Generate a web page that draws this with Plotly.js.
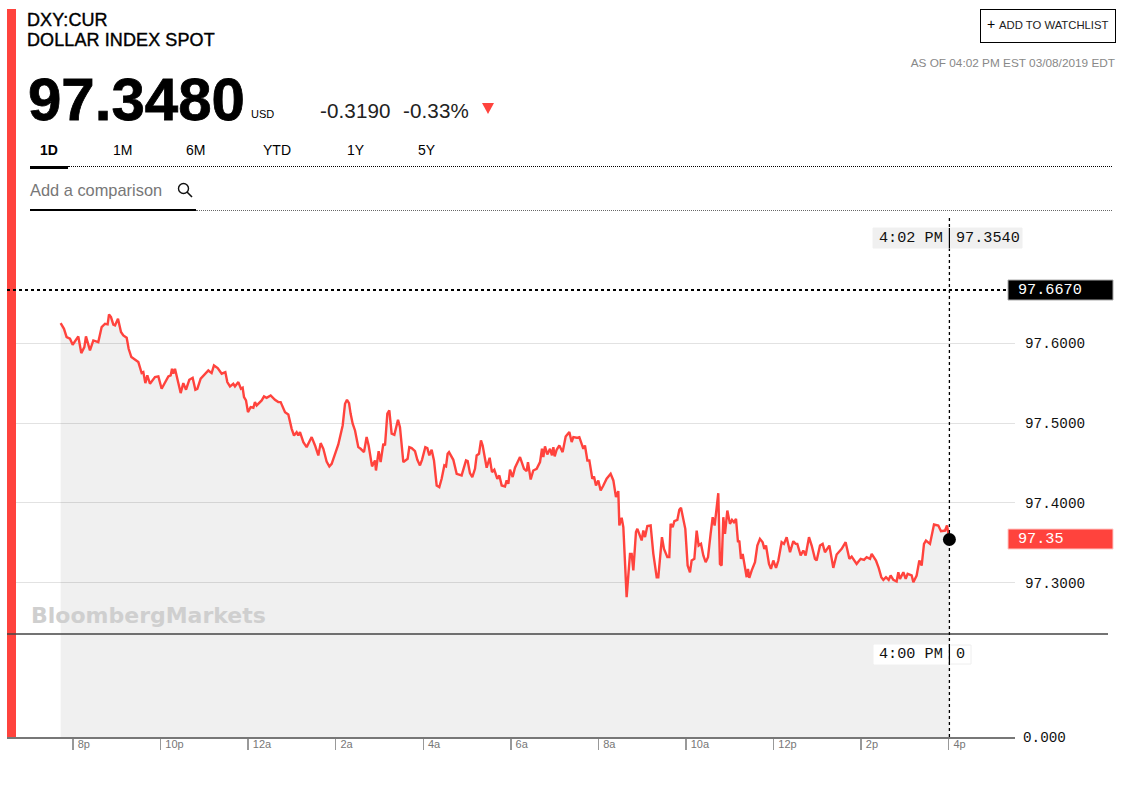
<!DOCTYPE html>
<html>
<head>
<meta charset="utf-8">
<script src="https://cdn.plot.ly/plotly-3.0.1.min.js"></script>
<style>
html,body{margin:0;padding:0;background:#fff;}
body{width:1133px;height:788px;position:relative;overflow:hidden;font-family:"Liberation Sans",Arial,sans-serif;color:#000;}
#chart{position:absolute;left:0;top:0;width:1133px;height:788px;}
.t{position:absolute;white-space:nowrap;line-height:1;z-index:2;}
.rule{position:absolute;z-index:2;}
</style>
</head>
<body>
<div id="chart"></div>

<div class="t" style="left:27px;top:11px;font-size:18px;-webkit-text-stroke:.4px #000;letter-spacing:.1px;">DXY:CUR</div>
<div class="t" style="left:27px;top:31px;font-size:18px;-webkit-text-stroke:.4px #000;letter-spacing:.1px;">DOLLAR INDEX SPOT</div>
<div class="t" style="left:28px;top:70px;font-size:60px;font-weight:bold;-webkit-text-stroke:.8px #000;">97.3480</div>
<div class="t" style="left:251px;top:109px;font-size:11px;">USD</div>
<div class="t" style="left:320px;top:101px;font-size:20.6px;color:#222;letter-spacing:.1px;">-0.3190</div>
<div class="t" style="left:403px;top:101px;font-size:20.6px;color:#222;letter-spacing:.1px;">-0.33%</div>
<div style="position:absolute;z-index:2;left:482px;top:103px;width:0;height:0;border-left:6px solid transparent;border-right:6px solid transparent;border-top:11px solid #ff433d;"></div>

<div class="t" style="left:40px;top:143px;font-size:14px;font-weight:bold;">1D</div>
<div class="t" style="left:113px;top:143px;font-size:14px;">1M</div>
<div class="t" style="left:186px;top:143px;font-size:14px;">6M</div>
<div class="t" style="left:263px;top:143px;font-size:14px;">YTD</div>
<div class="t" style="left:347px;top:143px;font-size:14px;">1Y</div>
<div class="t" style="left:418px;top:143px;font-size:14px;">5Y</div>
<div class="rule" style="left:30px;top:166px;width:38px;height:3px;background:#000;"></div>
<div class="rule" style="left:68px;top:166px;width:1044px;border-top:1px dotted #000;"></div>

<div class="t" style="left:30px;top:182px;font-size:16.4px;color:#777;">Add a comparison</div>
<svg style="position:absolute;z-index:2;left:176px;top:181px;" width="18" height="18" viewBox="0 0 18 18"><circle cx="7.5" cy="7.5" r="5" fill="none" stroke="#111" stroke-width="1.4"/><line x1="11" y1="11" x2="16" y2="16" stroke="#111" stroke-width="1.6"/></svg>
<div class="rule" style="left:30px;top:209px;width:166px;height:2px;background:#000;"></div>
<div class="rule" style="left:196px;top:210px;width:916px;border-top:1px dotted #666;"></div>

<div style="position:absolute;z-index:2;left:980px;top:9px;width:134px;height:32px;border:1px solid #000;"></div>
<div class="t" style="left:987px;top:17px;font-size:14px;">+</div>
<div class="t" style="left:999px;top:20px;font-size:11.3px;color:#222;">ADD TO WATCHLIST</div>
<div class="t" style="right:18px;top:58px;font-size:11.8px;color:#888;">AS OF 04:02 PM EST 03/08/2019 EDT</div>

<script>
// Time axis: minutes after 8p; price in index points.
var minutes = [-16.9,-12.3,-8.7,-4.1,-0.4,4.1,7.3,11.4,15.6,17.8,23.3,27.9,34.7,39.3,43.9,47.5,49.4,52.1,55.3,57.6,61.7,65.8,69.0,73.6,76.3,80.0,83.6,89.6,94.1,96.4,99.2,101.9,105.5,112.4,117.0,121.5,130.7,133.9,135.7,137.5,139.8,143.0,147.6,151.2,154.9,159.4,164.0,167.7,170.4,175.0,180.9,185.5,190.0,193.2,198.3,203.8,208.8,211.5,215.2,219.7,222.0,226.6,230.2,232.5,234.4,237.1,239.8,243.5,247.2,249.4,251.7,258.6,261.8,265.4,270.9,276.8,281.4,284.6,290.6,295.1,299.7,302.9,306.5,308.8,311.1,315.7,320.2,323.9,327.1,331.7,336.2,339.4,343.1,347.6,351.3,354.5,363.6,369.6,372.8,375.5,378.3,380.5,383.3,386.5,391.0,
394.2,398.8,402.4,405.2,409.8,413.9,415.2,418.9,421.6,425.3,427.6,430.8,433.5,436.7,440.4,445.4,448.1,452.7,458.6,460.9,464.1,468.7,471.9,475.5,478.3,482.8,485.6,488.3,491.5,494.7,498.4,502.0,505.2,508.9,511.2,513.4,515.3,521.2,525.8,529.4,532.6,538.6,540.9,544.0,547.2,550.9,553.2,556.4,559.1,561.4,566.9,571.0,574.2,577.4,581.5,584.3,587.5,592.0,594.3,596.6,598.9,602.5,605.7,612.6,618.1,621.7,623.5,627.2,630.8,635.4,640.0,642.7,644.6,646.8,650.0,653.7,656.4,658.3,660.1,662.8,666.5,671.0,675.2,680.2,683.4,685.7,690.2,693.9,699.4,701.6,704.9,707.6,711.7,714.0,716.7,719.9,723.1,726.8,731.3,736.8,740.5,744.1,747.3,748.7,751.9,754.2,758.7,763.3,765.6,767.9,771.5,773.4,779.3,781.6,783.9,787.1,791.6,795.3,799.9,802.1,
807.1,809.9,814.5,817.2,819.0,821.8,824.1,828.2,830.9,833.2,836.4,839.1,842.3,845.5,847.8,851.5,854.7,857.4,860.6,863.8,867.0,870.2,873.8,876.6,879.3,884.3,886.6,888.9,891.2,893.5,896.7,900.3,903.1,905.8,908.6,911.3,913.1,915.4,917.7,921.3,923.2,925.0,926.8,930.0,934.6,937.8,941.4,945.1,947.4,949.7,953.8,956.5,959.7,963.4,966.6,971.1,974.3,978.0,982.6,987.1,990.3,992.6,997.2,1000.8,1004.0,1008.6,1012.3,1016.8,1019.1,1023.7,1027.3,1030.5,1036.5,1041.9,1046.5,1053.4,1058.8,1063.9,1067.1,1073.9,1079.4,1084.0,1087.6,1092.2,1094.5,1100.4,1104.1,1107.7,1110.5,1114.1,1117.8,1120.5,1124.2,1128.7,1131.0,1133.3,1137.9,1141.1,1143.8,1149.3,1151.6,1156.1,1159.8,1163.0,1166.2,1168.9,1174.4,1179.9,1185.8,1189.5,1195.0,1197.7,1201];
var prices = [97.6255,97.6184,97.608,97.6059,97.5984,97.6038,97.6088,97.5879,97.5954,97.6088,97.5912,97.6038,97.6017,97.6205,97.6247,97.6239,97.6364,97.6331,97.6235,97.6226,97.631,97.6143,97.6101,97.6071,97.5933,97.5829,97.5808,97.5766,97.5628,97.564,97.5502,97.5599,97.5494,97.5578,97.5586,97.5431,97.5586,97.5599,97.5682,97.562,97.5682,97.5544,97.5377,97.5502,97.5419,97.5544,97.5569,97.5419,97.5431,97.5557,97.5611,97.5661,97.5628,97.5724,97.5691,97.562,97.564,97.5515,97.5461,97.5494,97.5461,97.5515,97.5431,97.5444,97.5327,97.5285,97.5138,97.5201,97.5193,97.5264,97.5222,97.5285,97.5335,97.5318,97.5348,97.5293,97.5264,97.5264,97.5138,97.5109,97.4929,97.4845,97.4887,97.4845,97.4887,97.4762,97.4699,97.4762,97.4825,97.472,97.4594,97.4749,97.4678,97.4519,97.4456,97.449,97.4733,97.4971,97.5243,97.5293,97.5251,97.5117,97.4992,97.4908,97.4699,
97.4678,97.4636,97.4825,97.472,97.4457,97.4532,97.4406,97.4649,97.4511,97.4741,97.472,97.5118,97.5159,97.4867,97.4854,97.5042,97.495,97.4511,97.4553,97.4699,97.4687,97.4649,97.454,97.4469,97.454,97.4699,97.4687,97.4595,97.4666,97.4532,97.4218,97.4197,97.4302,97.4469,97.4457,97.4616,97.4636,97.454,97.4364,97.4356,97.4344,97.4532,97.4523,97.4373,97.4323,97.4427,97.4595,97.4616,97.4783,97.472,97.444,97.4565,97.4385,97.4415,97.4302,97.4344,97.4218,97.4205,97.4281,97.4239,97.4415,97.4323,97.444,97.4574,97.4427,97.4398,97.4511,97.4293,97.4406,97.4427,97.4511,97.4678,97.4574,97.4708,97.4607,97.4678,97.4595,97.4699,97.4582,97.4666,97.472,97.4636,97.4833,97.4887,97.4762,97.4825,97.4816,97.4825,97.4678,97.472,97.4532,97.4532,97.4302,97.4331,97.4218,97.4281,97.4155,97.4218,97.4302,97.4364,97.4281,97.4072,97.4147,97.3716,97.3812,97.3695,97.2816,97.336,97.336,97.3151,97.3632,97.3674,97.3528,97.3653,97.357,97.3708,97.3716,97.336,97.3067,97.3067,
97.3569,97.3422,97.3318,97.3318,97.3736,97.3694,97.377,97.3786,97.3912,97.3937,97.3778,97.3673,97.3213,97.3129,97.3276,97.3297,97.3652,97.3464,97.3485,97.3339,97.3255,97.3318,97.361,97.382,97.3715,97.4121,97.3234,97.3213,97.382,97.361,97.3903,97.3736,97.3786,97.3757,97.3799,97.3506,97.3527,97.3297,97.336,97.315,97.3067,97.3171,97.3058,97.315,97.3255,97.3464,97.3548,97.3506,97.3422,97.3464,97.3234,97.3171,97.3276,97.3184,97.3276,97.3506,97.3485,97.3569,97.338,97.3519,97.3485,97.3485,97.3339,97.3401,97.3339,97.3569,97.3464,97.3297,97.3276,97.3464,97.3485,97.338,97.3464,97.3184,97.3351,97.3422,97.3506,97.3297,97.3326,97.3234,97.3297,97.3284,97.3318,97.3297,97.336,97.3276,97.3184,97.3067,97.3033,97.3067,97.3033,97.3088,97.3033,97.3012,97.3129,97.3046,97.3129,97.3046,97.3108,97.3088,97.3004,97.3088,97.3276,97.3213,97.3485,97.3527,97.3485,97.3728,97.3715,97.3644,97.3652,97.3715,97.354];

var tickMinutes = [0,120,240,360,480,600,720,840,960,1080,1200];
var tickLabels = ['8p','10p','12a','2a','4a','6a','8a','10a','12p','2p','4p'];
var priceTicks = [97.3,97.4,97.5,97.6];
var prevClose = 97.667;
var lastPrice = 97.354;
var volume = [1,1];

var RED = '#ff433d', MONO = '"Liberation Mono", monospace';
var PX = function(x){return (x-7)/1008;};
var PY = function(y){return (737-y)/519;};
var tsize = 14.3, lsize = 15.2;

function txt(x, y, s, color, yref){
  return {xref:'paper', yref:yref||'paper', x:PX(x), y:y, text:s, showarrow:false, xanchor:'left', yanchor:'middle',
          font:{family:MONO, size:lsize, color:color||'#111'}};
}
function rect(x0,x1,y0,y1,fill,line){
  return {type:'rect', xref:'paper', yref:'paper', x0:PX(x0), x1:PX(x1), y0:PY(y0), y1:PY(y1),
          fillcolor:fill, line:{color:line||fill, width:1}};
}

var data = [
  {x:minutes, y:prices, type:'scatter', mode:'lines', xaxis:'x', yaxis:'y',
   line:{color:RED, width:2.4, shape:'linear'}, fill:'tozeroy', fillcolor:'rgba(0,0,0,0.06)', hoverinfo:'skip', showlegend:false},
  {x:[minutes[0], minutes[minutes.length-1]], y:volume, type:'scatter', mode:'lines', xaxis:'x', yaxis:'y2',
   line:{width:0, color:'rgba(0,0,0,0)'}, fill:'tozeroy', fillcolor:'rgba(0,0,0,0.06)', hoverinfo:'skip', showlegend:false},
  {x:[minutes[minutes.length-1]], y:[lastPrice], type:'scatter', mode:'markers', xaxis:'x', yaxis:'y',
   marker:{color:'#000', size:13}, cliponaxis:false, hoverinfo:'skip', showlegend:false}
];

var last = minutes[minutes.length-1];
var layout = {
  width:1133, height:788, autosize:false,
  margin:{l:7, r:118, t:218, b:51, pad:0},
  paper_bgcolor:'rgba(0,0,0,0)', plot_bgcolor:'rgba(0,0,0,0)',
  showlegend:false, hovermode:false,
  xaxis:{type:'linear', range:[-90.4,1290.9], anchor:'y2', tickmode:'array', tickvals:tickMinutes, ticktext:tickLabels,
         ticks:'outside', ticklen:11, tickwidth:1.5, tickcolor:'#999', showgrid:false, zeroline:false,
         showline:true, linecolor:'#777', linewidth:2,
         ticklabelposition:'outside right', ticklabelshift:3, ticklabelstandoff:-4,
         tickfont:{family:'"Liberation Sans", Arial, sans-serif', size:11, color:'#777'}},
  yaxis:{domain:[0.19846,1], range:[97.2354,97.7574], side:'right', anchor:'x', tickmode:'array',
         tickvals:priceTicks, ticktext:priceTicks.map(function(v){return v.toFixed(4);}),
         showgrid:true, gridcolor:'#e2e2e2', gridwidth:1, zeroline:false, showline:false, ticks:'',
         ticklabelstandoff:9, tickfont:{family:MONO, size:tsize, color:'#111'}},
  yaxis2:{domain:[0,0.19846], range:[0,1], side:'right', anchor:'x', tickmode:'array', tickvals:[0], ticktext:['0.000'],
         showgrid:false, zeroline:false, showline:false, ticks:'',
         ticklabelstandoff:7, tickfont:{family:MONO, size:tsize, color:'#111'}},
  shapes:[
    {type:'rect', xref:'paper', yref:'paper', x0:PX(7), x1:PX(16), y0:PY(737), y1:PY(9), fillcolor:RED, line:{width:0}},
    {type:'line', xref:'paper', yref:'paper', x0:0, x1:PX(1108), y0:PY(634), y1:PY(634), line:{color:'#444', width:1.5}},
    {type:'line', xref:'paper', yref:'y', x0:0, x1:PX(1008), y0:prevClose, y1:prevClose, line:{color:'#000', width:2, dash:'dot'}},
    {type:'line', xref:'x', yref:'paper', x0:last, x1:last, y0:0, y1:1, line:{color:'#000', width:1.3, dash:'dot'}},
    rect(873,1022,228,248,'#f0f0f0'),
    {type:'line', xref:'x', yref:'paper', x0:last, x1:last, y0:PY(228), y1:PY(248), line:{color:'#000', width:1.2}},
    rect(1008,1113,280,300,'#000','#aaa'),
    rect(1008,1113,529,549,RED,'#ffc9c7'),
    rect(874,948,645,664,'#fff'),
    rect(950,971,645,664,'#fff','#eee'),
    {type:'line', xref:'x', yref:'paper', x0:last, x1:last, y0:PY(645), y1:PY(664), line:{color:'#000', width:1.2}}
  ],
  annotations:[
    txt(877,PY(238),'4:02 PM'),
    txt(954,PY(238),'97.3540'),
    txt(1016,prevClose,'97.6670','#fff','y'),
    txt(1016,lastPrice,'97.35','#fff','y'),
    txt(877,PY(654),'4:00 PM'),
    txt(954,PY(654),'0'),
    {xref:'paper', yref:'paper', x:PX(29), y:PY(615), text:'BloombergMarkets', showarrow:false, xanchor:'left', yanchor:'middle',
     font:{family:'"DejaVu Sans", sans-serif', size:22, color:'#cfcfcf', weight:700}}
  ]
};

Plotly.newPlot('chart', data, layout, {displayModeBar:false, staticPlot:true});
</script>
</body>
</html>
